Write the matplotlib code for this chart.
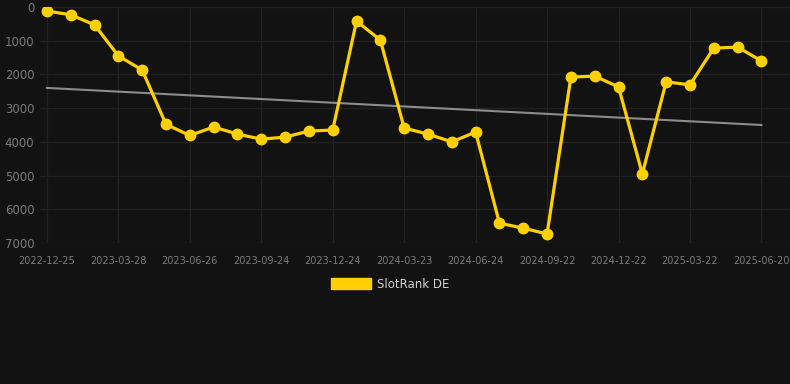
import numpy as np
import matplotlib
matplotlib.use("Agg")
from matplotlib import pyplot as plt
from matplotlib.patches import Patch

# data (rank, lower is better)
ranks = [120, 230, 530, 1450, 1870, 3480, 3810, 3560, 3770, 3920,
         3860, 3680, 3650, 420, 980, 3590, 3770, 4000, 3710, 6410,
         6560, 6730, 2080, 2050, 2370, 4950, 2220, 2310, 1220, 1190, 1600]
tick_labels = ['2022-12-25', '2023-03-28', '2023-06-26', '2023-09-24',
               '2023-12-24', '2024-03-23', '2024-06-24', '2024-09-22',
               '2024-12-22', '2025-03-22', '2025-06-20']
trend_ends = [2400, 3500]

bg = '#121212'
x = np.arange(len(ranks))

fig = plt.figure(figsize=(7.9, 3.84), dpi=100, facecolor=bg)
ax = fig.add_axes([40/790, 1 - 243/384, 750/790, 236/384], facecolor=bg)

# trend line
ax.plot([x[0], x[-1]], trend_ends, color='#8c8c8c', lw=1.5, zorder=2)
ax.plot(x, ranks, color='#ffd000', lw=2.3, marker='o', ms=7.5, zorder=3)

ax.set_ylim(7000, 0)
ax.set_yticks(range(0, 7001, 1000))
ax.set_xlim(-0.29, 31.2)
ax.set_xticks(x[::3])
ax.set_xticklabels(tick_labels)

ax.grid(True, color='#212121', lw=1)
ax.set_axisbelow(True)
for s in ax.spines.values():
    s.set_visible(False)
ax.tick_params(axis='y', colors='#7a7a7a', labelsize=8.5, length=0, pad=4)
ax.tick_params(axis='x', colors='#7a7a7a', labelsize=7, length=0, pad=9)

handle = Patch(facecolor='#ffd000', edgecolor='#ffd000')
fig.legend([handle], ['SlotRank DE'], loc='center', bbox_to_anchor=(0.494, 1 - 284/384),
           frameon=False, labelcolor='#d0d0d0', fontsize=8.5,
           handlelength=3.4, handleheight=1.0, handletextpad=0.5)

fig.savefig('out.png', dpi=100, facecolor=bg)
